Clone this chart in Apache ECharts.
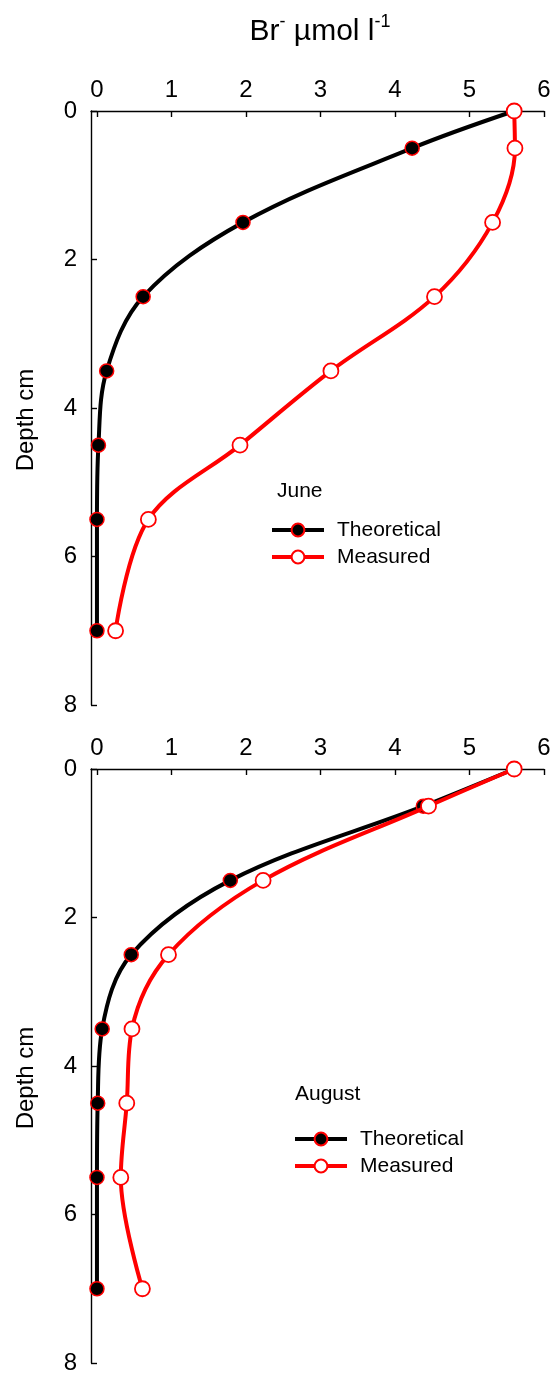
<!DOCTYPE html>
<html>
<head>
<meta charset="utf-8">
<script src="https://cdn.jsdelivr.net/npm/echarts@6/dist/echarts.min.js"></script>
<style>
html,body{margin:0;padding:0;background:#fff;}
#c{width:555px;height:1384px;}
</style>
</head>
<body>
<div id="c"></div>
<script>
// Data
const depths = [0, 0.5, 1.5, 2.5, 3.5, 4.5, 5.5, 7];
const juneTheoretical = [5.6, 4.23, 1.96, 0.62, 0.13, 0.02, 0.0, 0.0];
const juneMeasured    = [5.6, 5.61, 5.31, 4.53, 3.14, 1.92, 0.69, 0.25];
const augTheoretical  = [5.6, 4.38, 1.79, 0.46, 0.07, 0.01, 0.0, 0.0];
const augMeasured     = [5.6, 4.45, 2.23, 0.96, 0.47, 0.40, 0.32, 0.61];
const xTicks = [0, 1, 2, 3, 4, 5, 6];
const panelNames = ['June', 'August'];

const FONT = '"Liberation Sans", Arial, sans-serif';
const pair = (xs) => xs.map((v, i) => [v, depths[i]]);

function xAxisFor(gi) {
  return {
    gridIndex: gi, type: 'value', position: 'top', min: -0.08, max: 6,
    axisLine: {show: true, lineStyle: {color: '#000', width: 1.4}},
    axisTick: {show: true, inside: true, length: 6, lineStyle: {color: '#000', width: 1.4}, customValues: xTicks},
    axisLabel: {show: true, color: '#000', fontSize: 24, fontFamily: FONT, margin: 9, customValues: xTicks},
    splitLine: {show: false}
  };
}
function yAxisFor(gi) {
  return {
    gridIndex: gi, type: 'value', inverse: true, min: 0, max: 8, interval: 2,
    axisLine: {show: true, onZero: false, lineStyle: {color: '#000', width: 1.4}},
    axisTick: {show: true, inside: true, length: 6, lineStyle: {color: '#000', width: 1.4}},
    axisLabel: {show: true, color: '#000', fontSize: 24, fontFamily: FONT, margin: 14},
    splitLine: {show: false}
  };
}
function theo(gi, vals) {
  return {
    name: 'Theoretical', type: 'line', xAxisIndex: gi, yAxisIndex: gi,
    data: pair(vals), smooth: 0.35, symbol: 'circle', symbolSize: 14,
    lineStyle: {color: '#000', width: 4},
    itemStyle: {color: '#000', borderColor: '#ff0000', borderWidth: 1.5},
    z: 2, animation: false
  };
}
function meas(gi, vals) {
  return {
    name: 'Measured', type: 'line', xAxisIndex: gi, yAxisIndex: gi,
    data: pair(vals), smooth: 0.35, symbol: 'circle', symbolSize: 15,
    lineStyle: {color: '#ff0000', width: 4},
    itemStyle: {color: '#fff', borderColor: '#ff0000', borderWidth: 1.8},
    z: 3, animation: false
  };
}
function legendFor(left, top) {
  return {
    orient: 'vertical', left: left, top: top, itemWidth: 52, itemHeight: 16, itemGap: 3,
    padding: 0,
    data: ['Theoretical', 'Measured'],
    lineStyle: {width: 4},
    textStyle: {fontSize: 21, fontFamily: FONT, color: '#000', lineHeight: 24, padding: [0, 0, 0, 8]}
  };
}
function depthLabel(cy) {
  return {
    type: 'text', x: 26, y: cy, rotation: Math.PI / 2,
    style: {text: 'Depth cm', fontSize: 24, fontFamily: FONT, fill: '#000', align: 'center', verticalAlign: 'middle'}
  };
}

const chart = echarts.init(document.getElementById('c'), null, {renderer: 'canvas'});
chart.setOption({
  backgroundColor: '#fff',
  animation: false,
  title: [
    {
      text: '{n|Br}{s|-}{n| \u00b5mol l}{s|-1}',
      left: 320, top: 13, textAlign: 'center', padding: 0,
      textStyle: {
        rich: {
          n: {fontSize: 30, fontWeight: 'normal', fontFamily: FONT, color: '#000', verticalAlign: 'bottom', lineHeight: 34},
          s: {fontSize: 18, fontWeight: 'normal', fontFamily: FONT, color: '#000', verticalAlign: 'top', lineHeight: 34, padding: [0, 0, 15, 0]}
        }
      }
    },
    {text: panelNames[0], left: 277, top: 481, padding: 0, textStyle: {fontSize: 21, fontWeight: 'normal', fontFamily: FONT, color: '#000'}},
    {text: panelNames[1], left: 295, top: 1084, padding: 0, textStyle: {fontSize: 21, fontWeight: 'normal', fontFamily: FONT, color: '#000'}}
  ],
  legend: [legendFor(270, 518), legendFor(293, 1127)],
  graphic: [depthLabel(420), depthLabel(1078)],
  grid: [
    {left: 91, top: 111, width: 453, height: 594},
    {left: 91, top: 769, width: 453, height: 594}
  ],
  xAxis: [xAxisFor(0), xAxisFor(1)],
  yAxis: [yAxisFor(0), yAxisFor(1)],
  series: [
    theo(0, juneTheoretical), meas(0, juneMeasured),
    theo(1, augTheoretical), meas(1, augMeasured)
  ]
});
</script>
</body>
</html>
